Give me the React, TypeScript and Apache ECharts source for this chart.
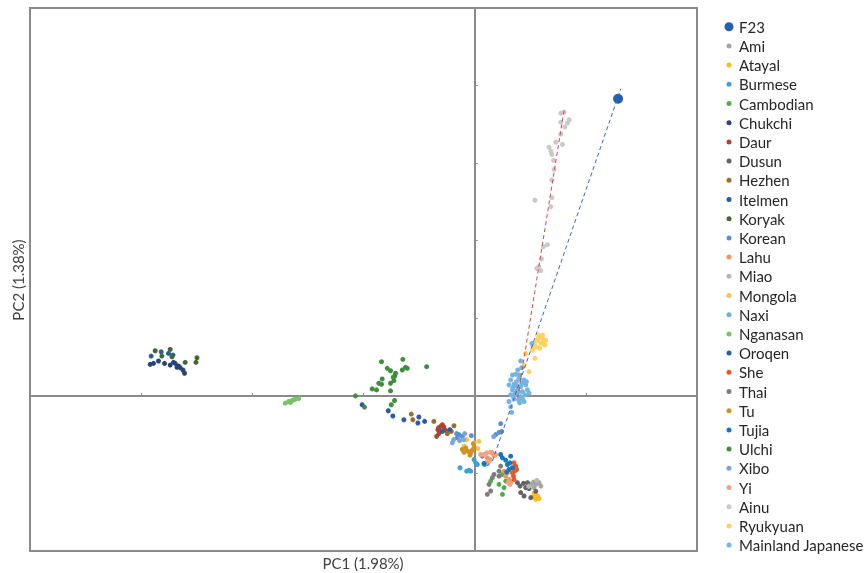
import React, { useEffect, useRef } from "react";
import * as echarts from "echarts";

// ---- data (PC1, PC2) ----
const populations = [
  "F23", "Ami", "Atayal", "Burmese", "Cambodian", "Chukchi", "Daur", "Dusun", "Hezhen",
  "Itelmen", "Koryak", "Korean", "Lahu", "Miao", "Mongola", "Naxi", "Nganasan", "Oroqen",
  "She", "Thai", "Tu", "Tujia", "Ulchi", "Xibo", "Yi", "Ainu", "Ryukyuan", "Mainland Japanese",
];

const colors = [
  "#2360b0", "#a5a5a5", "#ffbb1c", "#3e9fd8", "#4ead4e", "#264478", "#a94530", "#636363", "#9a6e2e",
  "#255e91", "#43682b", "#5b8fd0", "#f1975a", "#b7b7b7", "#f9c24a", "#6cb0dd", "#79c26c", "#2b5ba3",
  "#e8592a", "#7c7c7c", "#d09222", "#1b75bc", "#3e8e3e", "#7ba3db", "#f4a283", "#c9c9c9", "#ffd25e", "#74b4e0",
];

const F23 = [[1.29, 3.83]];
const Ami = [[0.505, -1.141], [0.529, -1.112], [0.55, -1.141], [0.579, -1.119], [0.534, -1.183], [0.595, -1.163]];
const Atayal = [[0.534, -1.256], [0.565, -1.291], [0.55, -1.333], [0.579, -1.324], [0.529, -1.299]];
const Burmese = [[-0.132, -0.927], [-0.051, -0.958], [-0.036, -0.971], [-0.072, -0.971], [-0.006, -0.821],
  [0.009, -0.863], [0.024, -0.885], [0.09, -0.885], [0.114, -0.872], [0.069, -0.778]];
const Cambodian = [[0.144, -1.099], [0.25, -1.013], [0.279, -1.099], [0.219, -1.141], [0.264, -1.183], [0.25, -1.269]];
const Chukchi = [[-2.919, 0.406], [-2.889, 0.419], [-2.844, 0.449], [-2.79, 0.419], [-2.739, 0.397], [-2.694, 0.419],
  [-2.664, 0.385], [-2.649, 0.363], [-2.624, 0.333], [-2.61, 0.291], [-2.678, 0.368], [-2.709, 0.432]];
const Daur = [[-0.306, -0.394], [-0.277, -0.401], [-0.331, -0.436], [-0.322, -0.487], [-0.342, -0.522],
  [-0.291, -0.372], [-0.261, -0.445], [-0.313, -0.458], [-0.324, -0.41]];
const Dusun = [[0.385, -1.119], [0.408, -1.163], [0.439, -1.128], [0.459, -1.183], [0.414, -1.247], [0.444, -1.291],
  [0.489, -1.196], [0.505, -1.312], [0.475, -1.119], [0.55, -1.231]];
const Hezhen = [[-0.57, -0.235], [-0.556, -0.308], [-0.367, -0.329], [-0.186, -0.385], [-0.246, -0.487], [-0.21, -0.458]];
const Itelmen = [[-2.91, 0.513], [-2.82, 0.568], [-2.754, 0.547], [-2.714, 0.526]];
const Koryak = [[-2.874, 0.581], [-2.739, 0.599], [-2.814, 0.513], [-2.723, 0.504], [-2.604, 0.432], [-2.498, 0.491], [-2.507, 0.432]];
const Korean = [[-0.141, -0.5], [-0.111, -0.522], [-0.156, -0.542], [-0.03, -0.513], [0.234, -0.359], [0.189, -0.5],
  [0.219, -0.471], [0.243, -0.458], [-0.162, -0.487]];
const Lahu = [[0.159, -0.735], [0.114, -0.799], [0.138, -0.821], [0.174, -0.769], [0.099, -0.863], [0.279, -1.035],
  [0.309, -1.077], [0.324, -1.119], [0.295, -0.991], [0.264, -0.971]];
const Miao = [[0.559, -1.09], [0.486, -1.167]];
const Mongola = [[-0.072, -0.564], [-0.006, -0.606], [0.039, -0.586], [-0.096, -0.65], [0.027, -0.679]];
const Naxi = [[-0.201, -0.606], [-0.099, -0.564]];
const Nganasan = [[-1.703, -0.094], [-1.673, -0.073], [-1.642, -0.06], [-1.613, -0.042], [-1.583, -0.035], [-1.658, -0.086], [-1.628, -0.051]];
const Oroqen = [[-1.012, -0.115], [-0.777, -0.192], [-0.736, -0.26], [-0.637, -0.308], [-0.502, -0.273], [-0.511, -0.35],
  [-0.45, -0.329], [-0.291, -0.458], [-0.223, -0.436]];
const She = [[0.354, -0.863], [0.369, -0.906], [0.36, -0.971], [0.34, -0.991], [0.349, -1.035], [0.354, -1.077], [0.369, -0.94], [0.378, -0.949]];
const Thai = [[0.234, -0.906], [0.219, -0.971], [0.174, -1.013], [0.219, -1.035], [0.159, -1.055], [0.129, -1.141], [0.144, -1.227], [0.114, -1.269]];
const Tu = [[-0.111, -0.692], [-0.096, -0.727], [-0.036, -0.735], [-0.021, -0.701], [-0.006, -0.671], [-0.042, -0.765],
  [-0.081, -0.671], [-0.012, -0.619], [-0.06, -0.714]];
const Tujia = [[0.234, -0.756], [0.324, -0.778], [0.318, -0.863], [0.295, -0.885], [0.34, -0.927], [0.309, -0.949],
  [0.25, -0.799], [0.279, -0.829], [0.288, -0.983], [0.084, -0.872]];
const Ulchi = [[-0.838, 0.44], [-0.646, 0.471], [-0.432, 0.376], [-0.786, 0.355], [-0.757, 0.324], [-0.651, 0.333],
  [-0.622, 0.368], [-0.606, 0.355], [-0.712, 0.291], [-0.732, 0.24], [-0.718, 0.256], [-0.832, 0.218], [-0.757, 0.163],
  [-0.727, 0.196], [-0.862, 0.163], [-0.838, 0.15], [-0.922, 0.09], [-0.883, 0.077], [-0.757, 0.064], [-1.072, 0.0],
  [-0.721, -0.06], [-0.75, -0.115], [-0.991, -0.145]];
const Xibo = [[-0.09, -0.487], [-0.189, -0.564], [0.171, -0.526], [-0.135, -0.577]];
const Yi = [[0.084, -0.756], [0.144, -0.727], [0.129, -0.842], [0.189, -0.756], [0.108, -0.735], [0.3, -1.119], [0.318, -1.141], [0.054, -0.756]];
const Ainu = [[0.775, 3.645], [0.805, 3.658], [0.85, 3.56], [0.775, 3.529], [0.835, 3.517], [0.811, 3.465], [0.775, 3.376],
  [0.73, 3.269], [0.79, 3.24], [0.669, 3.205], [0.685, 3.154], [0.694, 3.112], [0.709, 3.035], [0.714, 2.919], [0.694, 2.782],
  [0.543, 2.522], [0.694, 2.555], [0.685, 2.44], [0.619, 1.923], [0.655, 1.949], [0.601, 1.765], [0.559, 1.641], [0.595, 1.615], [0.577, 1.667]];
const Ryukyuan = [[0.579, 0.782], [0.61, 0.74], [0.64, 0.718], [0.565, 0.718], [0.534, 0.676], [0.595, 0.676], [0.55, 0.632],
  [0.52, 0.59], [0.543, 0.483], [0.459, 0.547], [0.444, 0.397], [0.489, 0.312], [0.624, 0.696], [0.574, 0.747],
  [0.613, 0.782], [0.586, 0.615], [0.631, 0.654], [0.523, 0.641]];
const MainlandJapanese = [[0.414, 0.449], [0.423, 0.363], [0.34, 0.269], [0.369, 0.278], [0.324, 0.205], [0.399, 0.227],
  [0.444, 0.205], [0.309, 0.141], [0.354, 0.15], [0.414, 0.119], [0.459, 0.141], [0.34, 0.077], [0.385, 0.077],
  [0.43, 0.055], [0.475, 0.077], [0.324, 0.013], [0.369, 0.013], [0.414, -0.009], [0.453, 0.013], [0.354, -0.038],
  [0.394, -0.051], [0.43, -0.038], [0.309, -0.073], [0.444, -0.073], [0.333, -0.214], [0.376, 0.183], [0.405, 0.269],
  [0.363, 0.035], [0.466, 0.183], [0.489, 0.035], [0.387, 0.333], [0.342, 0.103], [0.432, 0.167], [0.396, 0.051],
  [0.378, 0.128], [0.351, -0.013], [0.405, -0.09], [0.514, 0.676], [0.324, -0.141]];

const popData = [
  F23, Ami, Atayal, Burmese, Cambodian, Chukchi, Daur, Dusun, Hezhen, Itelmen, Koryak, Korean, Lahu, Miao,
  Mongola, Naxi, Nganasan, Oroqen, She, Thai, Tu, Tujia, Ulchi, Xibo, Yi, Ainu, Ryukyuan, MainlandJapanese,
];

// projection lines
const blueLine = [[0.16, -0.84], [1.315, 3.96]];
const redLine = [[0.387, -0.026], [0.805, 3.688]];

const axisX = { min: -4, max: 2, interval: 1 };
const axisY = { min: -2, max: 5, interval: 1 };

const FONT = "Lato, 'Open Sans', sans-serif";
const GRAY = "#8a8a8a";

const smallDot = "path://M0 0M20 20M10 5A5 5 0 1 1 10 15A5 5 0 1 1 10 5Z";
const bigDot = "path://M0 0M20 20M10 1A9 9 0 1 1 10 19A9 9 0 1 1 10 1Z";

export default function App() {
  const ref = useRef<HTMLDivElement>(null);
  useEffect(() => {
    if (!ref.current) return;
    const chart = echarts.init(ref.current, null, { renderer: "svg" });
    const scatterSeries = populations.map((name, i) => ({
      name,
      type: "scatter",
      data: popData[i],
      symbol: "circle",
      symbolSize: name === "F23" ? 10 : 5,
      itemStyle: { color: colors[i], opacity: 1 },
      emphasis: { disabled: true },
      z: 2,
    }));
    const lineSeries = [
      { data: blueLine, color: "#3d63b8" },
      { data: redLine, color: "#e8403a" },
    ].map((l, i) => ({
      name: i === 0 ? "lineF23" : "lineAinu",
      type: "line",
      data: l.data,
      symbol: "none",
      lineStyle: { color: l.color, width: 1, type: [4, 3] },
      itemStyle: { color: l.color },
      z: 3,
      silent: true,
    }));
    chart.setOption({
      animation: false,
      grid: {
        left: 30, right: 169, top: 8, bottom: 22,
        show: true, borderColor: GRAY, borderWidth: 2,
      },
      xAxis: {
        type: "value", ...axisX,
        axisLine: { show: true, onZero: true, lineStyle: { color: GRAY, width: 2 } },
        axisTick: { show: true, inside: true, length: 3, lineStyle: { color: GRAY, width: 1 } },
        axisLabel: { show: false },
        splitLine: { show: false },
      },
      yAxis: {
        type: "value", ...axisY,
        axisLine: { show: true, onZero: true, lineStyle: { color: GRAY, width: 2 } },
        axisTick: { show: true, inside: true, length: 3, lineStyle: { color: GRAY, width: 1 } },
        axisLabel: { show: false },
        splitLine: { show: false },
      },
      legend: {
        orient: "vertical",
        left: 719,
        top: 14.2,
        itemWidth: 10,
        itemHeight: 10,
        itemGap: 4.2,
        textStyle: { fontFamily: FONT, fontSize: 15, color: "#262626", lineHeight: 15 },
        data: populations.map((name) => ({ name, icon: name === "F23" ? bigDot : smallDot })),
        selectedMode: false,
      },
      graphic: [
        {
          type: "text", x: 363, y: 563,
          style: { text: "PC1 (1.98%)", font: `15px ${FONT}`, fill: "#404040", align: "center", verticalAlign: "middle" },
        },
        {
          type: "text", x: 18, y: 280, rotation: Math.PI / 2,
          style: { text: "PC2 (1.38%)", font: `15px ${FONT}`, fill: "#404040", align: "center", verticalAlign: "middle" },
        },
      ],
      series: [...scatterSeries, ...lineSeries],
    });
    return () => chart.dispose();
  }, []);
  return <div ref={ref} style={{ position: "fixed", left: 0, top: 0, width: 866, height: 573 }} />;
}
